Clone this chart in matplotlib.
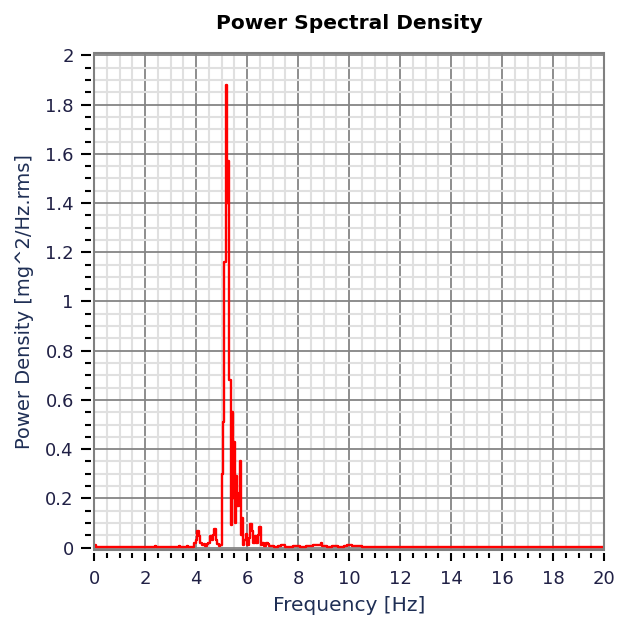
import matplotlib
matplotlib.use('Agg')
import matplotlib.pyplot as plt
from matplotlib.patches import Rectangle
from matplotlib.ticker import MultipleLocator

# spectrum (Hz, mg^2/Hz.rms)
freq = [0.0, 0.04, 0.08, 2.38, 2.42, 2.48, 3.31, 3.35, 3.39, 3.61, 3.65, 3.69,
        3.9, 3.95, 4.02, 4.08, 4.14, 4.2, 4.27, 4.33, 4.4, 4.46, 4.52, 4.58,
        4.64, 4.7, 4.74, 4.8, 4.86, 4.92, 4.98, 5.02, 5.07, 5.14, 5.2, 5.24,
        5.28, 5.33, 5.38, 5.42, 5.47, 5.5, 5.55, 5.6, 5.65, 5.69, 5.73, 5.78,
        5.82, 5.86, 5.92, 5.98, 6.04, 6.1, 6.16, 6.22, 6.28, 6.34, 6.4, 6.46,
        6.51, 6.56, 6.62, 6.7, 6.78, 6.84, 6.9, 7.2, 7.24, 7.45, 7.5, 7.8,
        7.84, 8.3, 8.34, 8.85, 8.92, 9.0, 9.3, 9.34, 9.8, 9.84, 10.0, 10.2,
        10.4, 10.6, 20.0]
psd = [0.003, 0.010, 0.003, 0.003, 0.008, 0.003, 0.003, 0.008, 0.003, 0.003, 0.008, 0.003,
       0.003, 0.02, 0.03, 0.066, 0.045, 0.02, 0.01, 0.015, 0.008, 0.015, 0.02, 0.045,
       0.03, 0.05, 0.075, 0.03, 0.015, 0.005, 0.01, 0.30, 0.51, 1.16, 1.88, 1.40,
       1.57, 0.68, 0.09, 0.55, 0.20, 0.43, 0.10, 0.29, 0.17, 0.22, 0.35, 0.05,
       0.12, 0.01, 0.03, 0.057, 0.01, 0.04, 0.097, 0.066, 0.02, 0.046, 0.02, 0.05,
       0.085, 0.012, 0.02, 0.008, 0.02, 0.015, 0.005, 0.003, 0.006, 0.01, 0.004, 0.003,
       0.006, 0.003, 0.005, 0.012, 0.02, 0.008, 0.003, 0.006, 0.003, 0.005, 0.01, 0.008,
       0.006, 0.003, 0.003]
yticks = [0, 0.2, 0.4, 0.6, 0.8, 1, 1.2, 1.4, 1.6, 1.8, 2]
ylabels = ['0', '0.2', '0.4', '0.6', '0.8', '1', '1.2', '1.4', '1.6', '1.8', '2']

label_col = '#1f2f55'
tick_col = '#202045'

fig = plt.figure(figsize=(6.24, 6.23), dpi=100)
ax = fig.add_axes([94 / 624, 1 - 550 / 623, 510 / 624, 497 / 623])

ax.plot(freq, psd, color='red', lw=1.7, drawstyle='steps-mid', zorder=3)

ax.set_xlim(0, 20)
ax.set_ylim(-0.01, 2.01)
ax.xaxis.set_major_locator(MultipleLocator(2))
ax.xaxis.set_minor_locator(MultipleLocator(0.5))
ax.yaxis.set_minor_locator(MultipleLocator(0.05))
ax.set_yticks(yticks)
ax.set_yticklabels(ylabels)

ax.grid(which='minor', color='#e0e0e0', lw=1.5, zorder=0)
ax.grid(which='major', color='#858585', lw=1.3, zorder=1)
ax.set_axisbelow(True)

# ticks sit a little away from the frame, so the frame is drawn on its own
for s in ax.spines.values():
    s.set_visible(False)
ax.spines['left'].set_position(('outward', 2.5))
ax.spines['bottom'].set_position(('outward', 2.5))
ax.add_patch(Rectangle((0, 0), 1, 1, transform=ax.transAxes, fill=False,
                       edgecolor='#808080', lw=1.5, clip_on=False, zorder=4))

ax.tick_params(axis='y', which='major', length=7, width=1.5, color='black',
               labelsize=13, labelcolor=tick_col, pad=5)
ax.tick_params(axis='y', which='minor', length=4.3, width=1.5, color='black')
ax.tick_params(axis='x', which='major', length=6, width=1.5, color='black',
               labelsize=13, labelcolor=tick_col, pad=6)
ax.tick_params(axis='x', which='minor', length=3.5, width=1.5, color='black')

ax.set_title('Power Spectral Density', fontsize=14.5, fontweight='bold',
             color='black', pad=17)
ax.set_xlabel('Frequency [Hz]', fontsize=14.5, color=label_col, labelpad=6)
ax.set_ylabel('Power Density [mg^2/Hz.rms]', fontsize=14, color=label_col, labelpad=8)

fig.savefig('out.png', dpi=100)
plt.close(fig)
